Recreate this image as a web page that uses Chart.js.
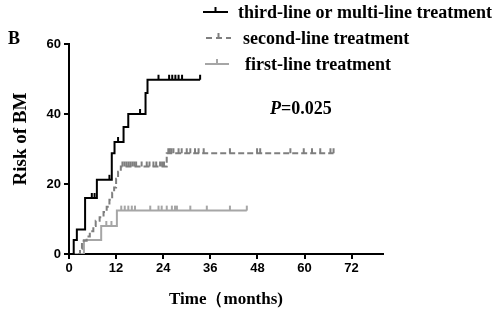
<!DOCTYPE html>
<html>
<head>
<meta charset="utf-8">
<script src="https://cdn.jsdelivr.net/npm/chart.js@4/dist/chart.umd.min.js"></script>
<style>
  html, body { margin: 0; padding: 0; background: #fff; }
  #wrap { width: 500px; height: 315px; position: relative; }
</style>
</head>
<body>
<div id="wrap"><canvas id="km"></canvas></div>
<script>
// cumulative incidence of BM by treatment line
const thirdT = [0, 1.2, 2.0, 4.1, 7.1, 10.9, 11.6, 13.9, 15.1, 19.5, 20.0, 33.4];
const thirdY = [0, 4, 7, 16, 21.2, 28.8, 32, 36.3, 40, 46, 49.8, 49.8];
const thirdCensT = [5.8, 6.5, 10.3, 12.5, 18.1, 22.8, 25.5, 26.3, 27.1, 27.9, 28.8, 33.4];
const thirdCensY = [16, 16, 21.2, 32, 40, 49.8, 49.8, 49.8, 49.8, 49.8, 49.8, 49.8];

const secondT = [0, 2.8, 3.3, 4.5, 5.3, 6.2, 6.8, 7.8, 8.8, 9.6, 10.3, 11.0, 11.5, 12.0, 12.5, 13.2, 24.9, 67.4];
const secondY = [0, 1.5, 3.8, 5, 6.5, 8, 9.5, 10.5, 12, 13.5, 15.5, 17.5, 19, 21.5, 23.5, 25, 28.8, 28.8];
const secondCensT = [13.6, 14.1, 14.6, 15.1, 15.6, 16.1, 16.6, 17.1, 18.5, 19.8, 20.5, 21.5, 22.2, 23.2, 23.7, 24.2,
  25.3, 25.7, 26.1, 26.6, 27.9, 28.7, 30.0, 30.9, 32.1, 33.0, 34.3, 41.0, 47.9, 48.7, 56.4, 59.8, 61.9, 64.0, 66.6, 67.4];
const secondCensY = secondCensT.map(t => t < 24.9 ? 25 : 28.8);

const firstT = [0, 3.8, 8.2, 12.2, 45.3];
const firstY = [0, 4, 8, 12.4, 12.4];
const firstCensT = [9.5, 10.8, 13.3, 14.2, 15.1, 16.0, 16.8, 20.7, 22.8, 23.6, 24.9, 26.2, 27.0, 27.5, 30.9, 35.1, 41.0, 45.3];
const firstCensY = firstCensT.map(t => t < 12.2 ? 8 : 12.4);

const xTicks = [0, 12, 24, 36, 48, 60, 72];
const yTicks = [0, 20, 40, 60];

const BLACK = '#000000', DARK = '#7f7f7f', LIGHT = '#a6a6a6';
const SERIF = '"Liberation Serif", "Times New Roman", serif';
const SANS = '"Liberation Sans", Arial, sans-serif';

function pts(xs, ys) { return xs.map((x, i) => ({ x: x, y: ys[i] })); }

// censor mark: a short tick sticking up from the line
function tickImg(color) {
  const c = document.createElement('canvas');
  c.width = 4; c.height = 12;
  const g = c.getContext('2d');
  g.fillStyle = color;
  g.fillRect(1, 1, 2, 5);
  return c;
}

function stepSet(xs, ys, color, dash) {
  return { type: 'line', data: pts(xs, ys), borderColor: color, borderWidth: 2, borderDash: dash || [],
    stepped: 'before', pointRadius: 0, fill: false };
}
function censSet(xs, ys, color) {
  return { type: 'scatter', data: pts(xs, ys), pointStyle: tickImg(color), pointRadius: 4, showLine: false };
}

const labels = [
  { text: 'third-line or multi-line treatment', color: BLACK, dash: [], y: 12, tx: 238, w: 259, x0: 203, x1: 228 },
  { text: 'second-line treatment', color: DARK, dash: [6, 4], y: 38, tx: 243, w: 169, x0: 206, x1: 231 },
  { text: 'first-line treatment', color: LIGHT, dash: [], y: 64, tx: 245, w: 150, x0: 205, x1: 229 },
];

const extras = {
  id: 'extras',
  afterDraw(chart) {
    const ctx = chart.ctx;
    ctx.save();
    ctx.fillStyle = '#000';
    ctx.font = 'bold 18px ' + SERIF;
    ctx.textBaseline = 'alphabetic';
    ctx.fillText('B', 8, 44);

    // legend
    labels.forEach(l => {
      ctx.strokeStyle = l.color; ctx.lineWidth = 2;
      ctx.setLineDash(l.dash);
      ctx.beginPath(); ctx.moveTo(l.x0, l.y); ctx.lineTo(l.x1, l.y); ctx.stroke();
      ctx.setLineDash([]);
      const mid = (l.x0 + l.x1) / 2;
      ctx.beginPath(); ctx.moveTo(mid, l.y); ctx.lineTo(mid, l.y - 5); ctx.stroke();
      ctx.fillStyle = '#000';
      ctx.font = 'bold 18px ' + SERIF;
      ctx.textBaseline = 'middle';
      ctx.fillText(l.text, l.tx, l.y + 1, l.w);
    });

    // p value
    ctx.textBaseline = 'alphabetic';
    ctx.font = 'italic bold 18px ' + SERIF;
    ctx.fillText('P', 270, 114);
    const pw = ctx.measureText('P').width;
    ctx.font = 'bold 18px ' + SERIF;
    ctx.fillText('=0.025', 270 + pw, 114);

    // axis titles
    ctx.textAlign = 'center';
    ctx.font = 'bold 17px ' + SERIF;
    ctx.fillText('Time\uFF08months)', 226, 304);
    ctx.translate(26, 139);
    ctx.rotate(-Math.PI / 2);
    ctx.font = 'bold 19px ' + SERIF;
    ctx.fillText('Risk of BM', 0, 0);
    ctx.restore();
  }
};

new Chart(document.getElementById('km'), {
  data: {
    datasets: [
      stepSet(thirdT, thirdY, BLACK),
      censSet(thirdCensT, thirdCensY, BLACK),
      stepSet(secondT, secondY, DARK, [6, 3]),
      censSet(secondCensT, secondCensY, DARK),
      stepSet(firstT, firstY, LIGHT),
      censSet(firstCensT, firstCensY, LIGHT),
    ]
  },
  options: {
    responsive: true, maintainAspectRatio: false, animation: false,
    layout: { padding: { left: 29, right: 117, top: 44, bottom: 1 } },
    plugins: { legend: { display: false }, tooltip: { enabled: false } },
    scales: {
      x: {
        type: 'linear', min: 0, max: 80,
        afterBuildTicks(s) { s.ticks = xTicks.map(v => ({ value: v })); },
        afterFit(s) { s.height = 60; },
        grid: { drawOnChartArea: false, drawTicks: true, tickLength: 5, color: '#000', lineWidth: 2 },
        border: { color: '#000', width: 2 },
        ticks: { color: '#000', padding: 2, font: { family: SANS, size: 13, weight: 'bold' } }
      },
      y: {
        min: 0, max: 60,
        afterBuildTicks(s) { s.ticks = yTicks.map(v => ({ value: v })); },
        afterFit(s) { s.width = 40; },
        grid: { drawOnChartArea: false, drawTicks: true, tickLength: 5, color: '#000', lineWidth: 2 },
        border: { color: '#000', width: 2 },
        ticks: { color: '#000', padding: 3, font: { family: SANS, size: 13, weight: 'bold' } }
      }
    }
  },
  plugins: [extras]
});
</script>
</body>
</html>
